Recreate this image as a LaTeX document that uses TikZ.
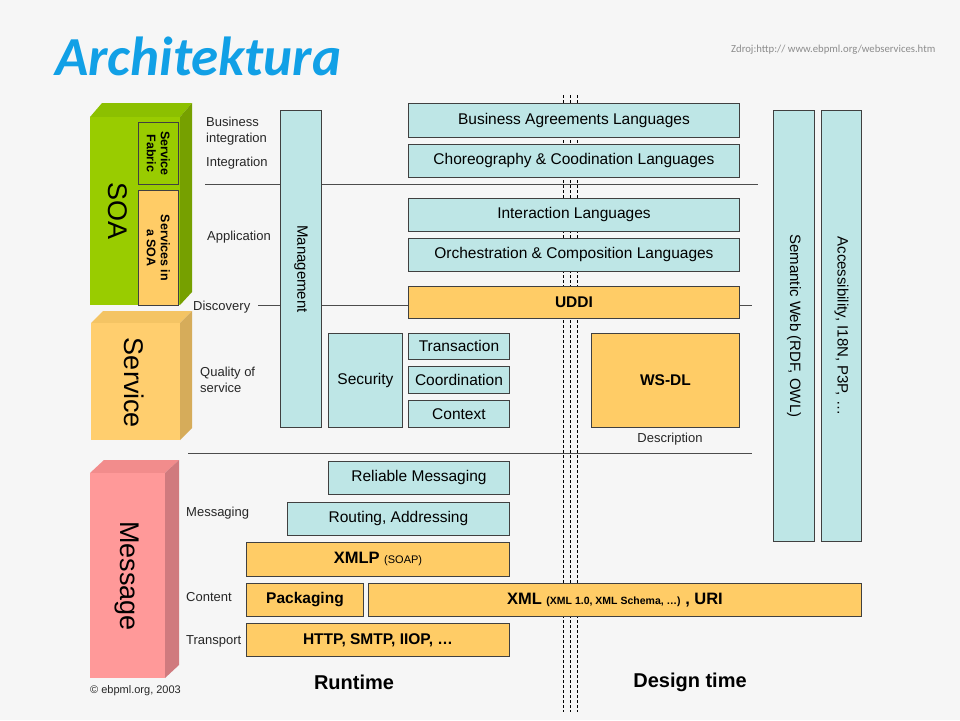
\documentclass[tikz,border=0pt]{standalone}
\usepackage{fontspec}
\setmainfont{Liberation Sans}
\newfontfamily\titlefont{Carlito}
\definecolor{cyanbox}{RGB}{190,230,230}
\definecolor{orangebox}{RGB}{255,204,102}
\definecolor{soagreen}{RGB}{153,204,0}
\definecolor{soagreenside}{RGB}{118,160,0}
\definecolor{soagreentop}{RGB}{140,192,0}
\definecolor{svcfront}{RGB}{255,206,110}
\definecolor{svcside}{RGB}{214,172,90}
\definecolor{svctop}{RGB}{244,196,100}
\definecolor{msgfront}{RGB}{255,153,153}
\definecolor{msgside}{RGB}{208,122,126}
\definecolor{msgtop}{RGB}{242,140,140}
\definecolor{titleblue}{RGB}{17,160,230}
\definecolor{bordergray}{RGB}{64,64,64}
\definecolor{bgcol}{RGB}{246,246,246}
\begin{document}
\begin{tikzpicture}[x=1pt,y=-1pt,
  bb/.style n args={4}{anchor=north west, at={(#1,#2)}, minimum width={#3-#1}, minimum height={#4-#2}, inner sep=0pt},
  framed/.style={draw=bordergray, line width=0.9pt},
  cbox/.style={framed, fill=cyanbox, font=\fontsize{15.5}{18}\selectfont},
  obox/.style={framed, fill=orangebox, font=\bfseries\fontsize{15.5}{18}\selectfont},
  lbl/.style={anchor=west, inner sep=0pt, align=left, font=\fontsize{13}{16}\selectfont, text=black!85},
  vtext/.style={rotate=-90, inner sep=0pt, align=center},
  sepline/.style={line width=1pt, draw=black!70},
  dotline/.style={line width=1pt, dash pattern=on 3pt off 2pt}
]
\fill[bgcol] (0,0) rectangle (960,720);
\useasboundingbox (0,0) rectangle (960,720);

% title and source
\node[anchor=base west, inner sep=0pt, font=\titlefont\bfseries\itshape\fontsize{55}{60}\selectfont, text=titleblue] (title) at (55,75) {Architektura};
\node[anchor=base west, inner sep=0pt, font=\titlefont\fontsize{10.7}{12}\selectfont, text=black!45] (src) at (731,52) {Zdroj:http:// www.ebpml.org/webservices.htm};

% dotted vertical lines
\foreach \x [count=\i] in {563,570,577} {
  \coordinate (dt\i) at (\x,95);
  \coordinate (db\i) at (\x,712);
  \draw[dotline] (dt\i) -- (db\i);
}

% separator lines
\coordinate (l1a) at (205,184); \coordinate (l1b) at (758,184);
\coordinate (l2a) at (258,305); \coordinate (l2b) at (752,305);
\coordinate (l3a) at (188,453); \coordinate (l3b) at (752,453);
\draw[sepline] (l1a) -- (l1b);
\draw[sepline] (l2a) -- (l2b);
\draw[sepline] (l3a) -- (l3b);

% SOA block
\fill[soagreentop] (90,117) -- (102,103) -- (192,103) -- (180,117) -- cycle;
\fill[soagreenside] (180,117) -- (192,103) -- (192,292) -- (180,305) -- cycle;
\fill[soagreen] (90,117) rectangle (180,305);
\node[vtext, font=\fontsize{27}{30}\selectfont] (soa) at (118,211) {SOA};
\node[bb={138}{122}{178}{184}, framed, fill=soagreen] (sf) {};
\node[vtext, font=\bfseries\fontsize{12.5}{14}\selectfont] (sft) at (sf.center) {Service\\Fabric};
\node[bb={138}{190}{178}{305}, framed, fill=orangebox] (ssoa) {};
\node[vtext, font=\bfseries\fontsize{12.5}{14}\selectfont] (ssoat) at (ssoa.center) {Services in\\a SOA};

% Service block
\fill[svctop] (91,323) -- (103,311) -- (192,311) -- (180,323) -- cycle;
\fill[svcside] (180,323) -- (192,311) -- (192,428) -- (180,440) -- cycle;
\fill[svcfront] (91,323) rectangle (180,440);
\node[vtext, font=\fontsize{27}{30}\selectfont] (svc) at (134,383) {Service};

% Message block
\fill[msgtop] (90,473) -- (104,460) -- (179,460) -- (165,473) -- cycle;
\fill[msgside] (165,473) -- (179,460) -- (179,665) -- (165,678) -- cycle;
\fill[msgfront] (90,473) rectangle (165,678);
\node[vtext, font=\fontsize{27}{30}\selectfont] (msg) at (127,576) {Message};

% left labels
\node[lbl] (lbi) at (206,131) {Business\\integration};
\node[lbl] (lint) at (206,163) {Integration};
\node[lbl] (lapp) at (207,237) {Application};
\node[lbl] (ldisc) at (193,307) {Discovery};
\node[lbl] (lqos) at (200,380) {Quality of\\service};
\node[lbl] (lmsg) at (186,513) {Messaging};
\node[lbl] (lcont) at (186,597) {Content};
\node[lbl] (ltrans) at (186,641) {Transport};
\node[lbl, font=\fontsize{11}{13}\selectfont] (copy) at (90,691) {© ebpml.org, 2003};

% management bar
\node[bb={280}{110}{321}{427}, cbox] (mgmt) {};
\node[vtext, font=\fontsize{15}{18}\selectfont] (mgmtt) at (mgmt.center) {Management};

% upper stack
\node[bb={408}{103}{739}{137}, cbox] (bal) {Business Agreements Languages};
\node[bb={408}{144}{739}{177}, cbox] (chor) {Choreography \& Coodination Languages};
\node[bb={408}{198}{739}{231}, cbox] (inter) {Interaction Languages};
\node[bb={408}{238}{739}{271}, cbox] (orch) {Orchestration \& Composition Languages};
\node[bb={408}{286}{739}{318}, obox] (uddi) {UDDI};

% middle
\node[bb={328}{333}{402}{427}, cbox] (sec) {Security};
\node[bb={408}{333}{509}{359}, cbox] (trans) {Transaction};
\node[bb={408}{366}{509}{393}, cbox] (coord) {Coordination};
\node[bb={408}{400}{509}{427}, cbox] (ctx) {Context};
\node[bb={591}{333}{739}{427}, obox] (wsdl) {WS-DL};
\node[font=\fontsize{13}{16}\selectfont, text=black!85, inner sep=0pt] (desc) at (670,439) {Description};

% messaging stack
\node[bb={328}{461}{509}{494}, cbox] (rel) {Reliable Messaging};
\node[bb={287}{502}{509}{535}, cbox] (rout) {Routing, Addressing};
\node[bb={246}{542}{509}{576}, obox] (xmlp) {\fontsize{16.5}{18}\selectfont XMLP {\mdseries\fontsize{11}{13}\selectfont (SOAP)}};
\node[bb={246}{583}{363}{616}, obox] (pack) {Packaging};
\node[bb={368}{583}{861}{616}, obox] (xml) {\fontsize{16.5}{18}\selectfont XML {\fontsize{10.5}{12}\selectfont (XML 1.0, XML Schema, …)} , URI};
\node[bb={246}{623}{509}{656}, obox] (http) {HTTP, SMTP, IIOP, …};

% right bars
\node[bb={773}{110}{814}{541}, cbox] (sem) {};
\node[vtext, font=\fontsize{15}{18}\selectfont] (semt) at (sem.center) {Semantic Web (RDF, OWL)};
\node[bb={821}{110}{861}{541}, cbox] (acc) {};
\node[vtext, font=\fontsize{15}{18}\selectfont] (acct) at (acc.center) {Accessibility, I18N, P3P, …};

% bottom captions
\node[font=\bfseries\fontsize{20}{24}\selectfont, inner sep=0pt] (rt) at (354,682) {Runtime};
\node[font=\bfseries\fontsize{20}{24}\selectfont, inner sep=0pt] (dt) at (690,682) {Design time};
\end{tikzpicture}
\end{document}
